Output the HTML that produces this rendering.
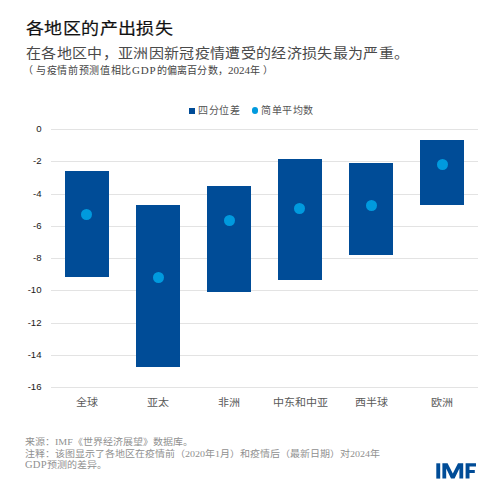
<!DOCTYPE html>
<html lang="zh-CN">
<head>
<meta charset="utf-8">
<style>
html,body{margin:0;padding:0;background:#fff;}
body{width:500px;height:498px;position:relative;overflow:hidden;text-spacing-trim:space-all;font-kerning:none;font-family:"Liberation Serif",serif;color:#333;}
.a{position:absolute;white-space:nowrap;line-height:1;}
#title{left:26px;top:20.8px;font-family:"Liberation Sans",sans-serif;font-size:18px;letter-spacing:0.4px;font-weight:normal;color:#111;-webkit-text-stroke:0.2px #111;transform:scaleY(0.89);transform-origin:0 0;}
#sub{left:26px;top:47.4px;font-size:15px;letter-spacing:0.33px;color:#4a4a4a;transform:scaleY(0.9);transform-origin:0 0;}
#paren{left:25.5px;top:65px;font-size:10px;color:#444;}
#paren .c1{letter-spacing:0.65px}
#paren .l{font-size:11px;letter-spacing:0.85px}
#paren .c2{letter-spacing:0.21px}
.leg{top:106px;font-size:10px;letter-spacing:0.6px;color:#555;}
.ylab{position:absolute;right:458.5px;font-family:"Liberation Sans",sans-serif;font-size:9.6px;color:#1a1a1a;line-height:1;margin-top:-1px;}
.grid{position:absolute;left:51px;width:427px;height:1px;background:#e3e3e3;}
.bar{position:absolute;width:44px;background:#004c97;}
.dot{position:absolute;width:11px;height:11px;border-radius:50%;background:#009ade;}
.cat{position:absolute;top:397.5px;transform:scaleY(0.92);transform-origin:50% 0;font-size:11px;color:#5a5a5a;text-align:center;width:80px;line-height:1;}
.foot{left:25px;transform:scaleY(0.9);transform-origin:0 0;font-size:10px;color:#8f8f8f;}
</style>
</head>
<body>
<div class="a" id="title">各地区的产出损失</div>
<div class="a" id="sub">在各地区中，亚洲因新冠疫情遭受的经济损失最为严重。</div>
<div class="a" id="paren"><span class="c1"><span style="position:relative;left:-3px">（</span>与疫情前预测值相比</span><span class="l">GDP</span><span class="c2">的偏离百分数，</span><span class="l" style="letter-spacing:0">2024</span><span class="c2">年<span style="margin-left:3px">）</span></span></div>

<div style="position:absolute;left:189px;top:107.5px;width:6.3px;height:6.3px;background:#004c97;"></div>
<div class="a leg" style="left:198px;">四分位差</div>
<div style="position:absolute;left:251.6px;top:107px;width:6.6px;height:6.6px;border-radius:50%;background:#009ade;"></div>
<div class="a leg" style="left:261px;">简单平均数</div>

<div class="grid" style="top:129px"></div>
<div class="grid" style="top:161.25px"></div>
<div class="grid" style="top:193.5px"></div>
<div class="grid" style="top:225.75px"></div>
<div class="grid" style="top:258px"></div>
<div class="grid" style="top:290.25px"></div>
<div class="grid" style="top:322.5px"></div>
<div class="grid" style="top:354.75px"></div>
<div class="grid" style="top:387px"></div>

<div class="ylab" style="top:125px">0</div>
<div class="ylab" style="top:157.25px">-2</div>
<div class="ylab" style="top:189.5px">-4</div>
<div class="ylab" style="top:221.75px">-6</div>
<div class="ylab" style="top:254px">-8</div>
<div class="ylab" style="top:286.25px">-10</div>
<div class="ylab" style="top:318.5px">-12</div>
<div class="ylab" style="top:350.75px">-14</div>
<div class="ylab" style="top:383px">-16</div>

<div class="bar" style="left:65px;top:170.7px;height:106.8px"></div>
<div class="bar" style="left:136px;top:205.2px;height:161.4px"></div>
<div class="bar" style="left:207px;top:186px;height:106px"></div>
<div class="bar" style="left:278px;top:159px;height:120.6px"></div>
<div class="bar" style="left:349px;top:163.3px;height:92.2px"></div>
<div class="bar" style="left:420px;top:140.1px;height:64.5px"></div>

<div class="dot" style="left:81.1px;top:208.6px"></div>
<div class="dot" style="left:152.5px;top:271.7px"></div>
<div class="dot" style="left:224px;top:215.1px"></div>
<div class="dot" style="left:294.2px;top:202.85px"></div>
<div class="dot" style="left:365.5px;top:200px"></div>
<div class="dot" style="left:436.6px;top:158.55px"></div>

<div class="cat" style="left:46.6px">全球</div>
<div class="cat" style="left:117.8px">亚太</div>
<div class="cat" style="left:188.9px">非洲</div>
<div class="cat" style="left:260.1px">中东和中亚</div>
<div class="cat" style="left:331.3px">西半球</div>
<div class="cat" style="left:402.4px">欧洲</div>

<div class="a foot" style="top:437.8px">来源：IMF《世界经济展望》数据库。</div>
<div class="a foot" style="top:449.6px">注释：该图显示了各地区在疫情前（2020年1月）和疫情后（最新日期）对2024年</div>
<div class="a foot" style="top:461.4px"><span style="font-size:10.6px;letter-spacing:0.2px">GDP</span>预测的差异。</div>

<svg style="position:absolute;left:0;top:0" width="500" height="498">
<g fill="#004c97">
<rect x="436.3" y="463.3" width="3.9" height="15.3"/>
<polygon points="442.4,463.3 447.6,463.3 452.8,473.5 458,463.3 463.2,463.3 463.2,478.6 459.4,478.6 459.4,468.5 454.6,478.6 451,478.6 446.2,468.5 446.2,478.6 442.4,478.6"/>
<polygon points="465.6,463.3 476,463.3 476,466.4 469.5,466.4 469.5,469.9 474.8,469.9 474.8,472.9 469.5,472.9 469.5,478.6 465.6,478.6"/>
</g>
</svg>
</body>
</html>
